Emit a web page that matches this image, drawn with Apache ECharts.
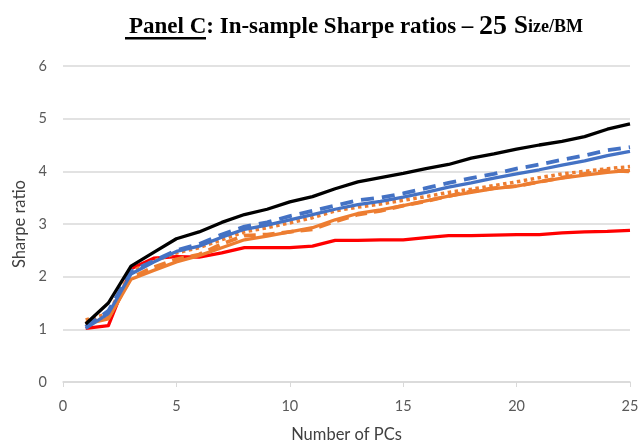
<!DOCTYPE html>
<html><head><meta charset="utf-8">
<script src="https://cdn.jsdelivr.net/npm/echarts@6/dist/echarts.min.js"></script>
<style>html,body{margin:0;padding:0;background:#fff}#c{width:641px;height:442px}</style>
</head><body><div id="c"></div>
<script>
const pcs = [1,2,3,4,5,6,7,8,9,10,11,12,13,14,15,16,17,18,19,20,21,22,23,24,25];
const black = [1.10,1.50,2.20,2.46,2.72,2.85,3.03,3.18,3.28,3.42,3.52,3.67,3.80,3.88,3.96,4.05,4.13,4.25,4.33,4.42,4.50,4.57,4.66,4.80,4.90];
const blueDash = [1.05,1.35,2.10,2.30,2.50,2.62,2.80,2.95,3.03,3.15,3.25,3.35,3.45,3.50,3.58,3.68,3.78,3.87,3.95,4.05,4.13,4.22,4.30,4.40,4.46];
const blueSolid = [1.02,1.30,2.05,2.28,2.48,2.58,2.75,2.90,2.98,3.08,3.18,3.28,3.37,3.43,3.51,3.60,3.70,3.78,3.87,3.95,4.03,4.12,4.20,4.30,4.38];
const orangeDot = [1.18,1.30,2.10,2.30,2.45,2.55,2.70,2.85,2.93,3.02,3.12,3.25,3.32,3.38,3.45,3.52,3.60,3.66,3.73,3.80,3.88,3.95,4.00,4.05,4.09];
const orangeSolid = [1.10,1.20,1.95,2.12,2.28,2.40,2.55,2.70,2.77,2.85,2.93,3.08,3.20,3.27,3.35,3.44,3.53,3.60,3.67,3.72,3.80,3.87,3.93,3.98,4.02];
const orangeDash = [1.12,1.22,1.98,2.18,2.33,2.42,2.62,2.78,2.80,2.85,2.90,3.05,3.18,3.25,3.35,3.43,3.53,3.62,3.68,3.72,3.80,3.88,3.95,4.02,4.00];
const red = [1.02,1.07,2.15,2.35,2.38,2.37,2.45,2.55,2.55,2.55,2.58,2.69,2.69,2.70,2.70,2.74,2.78,2.78,2.79,2.80,2.80,2.83,2.85,2.86,2.88];
const xTicks = [0,5,10,15,20,25];
const yTicks = [0,1,2,3,4,5,6];

const pair = arr => pcs.map((x,i)=>[x,arr[i]]);
function ser(name, data, color, type, width){
  return {name, type:'line', data:pair(data), showSymbol:false, symbol:'none', smooth:false,
    lineStyle:{color, width, type, cap:'butt', join:'round'}, z: 2};
}
const chart = echarts.init(document.getElementById('c'), null, {renderer:'canvas'});
chart.setOption({
  animation:false,
  backgroundColor:'#fff',
  title:{
    text:'{u|Panel C}{a|: In-sample Sharpe ratios – }{b|25 }{c|S}{d|ize/BM}',
    left:124, top:8,
    textStyle:{rich:{
      u:{fontFamily:'Liberation Serif', fontWeight:'bold', fontSize:23, color:'#000'},
      a:{fontFamily:'Liberation Serif', fontWeight:'bold', fontSize:23, color:'#000'},
      b:{fontFamily:'Liberation Serif', fontWeight:'bold', fontSize:28, color:'#000'},
      c:{fontFamily:'Liberation Serif', fontWeight:'bold', fontSize:25, color:'#000'},
      d:{fontFamily:'Liberation Serif', fontWeight:'bold', fontSize:18, color:'#000'}
    }}
  },
  graphic:[{type:'rect', shape:{x:125, y:37, width:81, height:2.5}, style:{fill:'#000'}}],
  grid:{left:63, right:11, top:66, bottom:60, containLabel:false, outerBoundsMode:'none'},
  xAxis:{type:'value', min:0, max:25, interval:5,
    name:'Number of PCs', nameLocation:'middle', nameGap:44,
    nameTextStyle:{fontFamily:'Lato', fontSize:16.5, color:'#404040'},
    axisLine:{lineStyle:{color:'#d9d9d9', width:1.5}},
    axisTick:{show:true, length:5, lineStyle:{color:'#d9d9d9'}},
    axisLabel:{fontFamily:'Lato', fontSize:14.5, color:'#595959', margin:17},
    splitLine:{show:false}},
  yAxis:{type:'value', min:0, max:6, interval:1,
    name:'Sharpe ratio', nameLocation:'middle', nameGap:35, nameRotate:90,
    nameTextStyle:{fontFamily:'Lato', fontSize:16.5, color:'#404040'},
    axisLine:{show:false}, axisTick:{show:false},
    axisLabel:{fontFamily:'Lato', fontSize:14.5, color:'#595959', margin:16},
    splitLine:{lineStyle:{color:'#d9d9d9', width:1.5}}},
  series:[
    ser('Red', red, '#ff0000', 'solid', 3.3),
    ser('Orange solid', orangeSolid, '#ed7d31', 'solid', 3.3),
    ser('Orange dashed', orangeDash, '#ed7d31', [12,7], 3.8),
    ser('Orange dotted', orangeDot, '#ed7d31', [3.5,3.5], 3.5),
    ser('Blue solid', blueSolid, '#4472c4', 'solid', 3.3),
    ser('Blue dashed', blueDash, '#4472c4', [13,8], 3.8),
    ser('Black', black, '#000000', 'solid', 3.3)
  ]
});
</script></body></html>
